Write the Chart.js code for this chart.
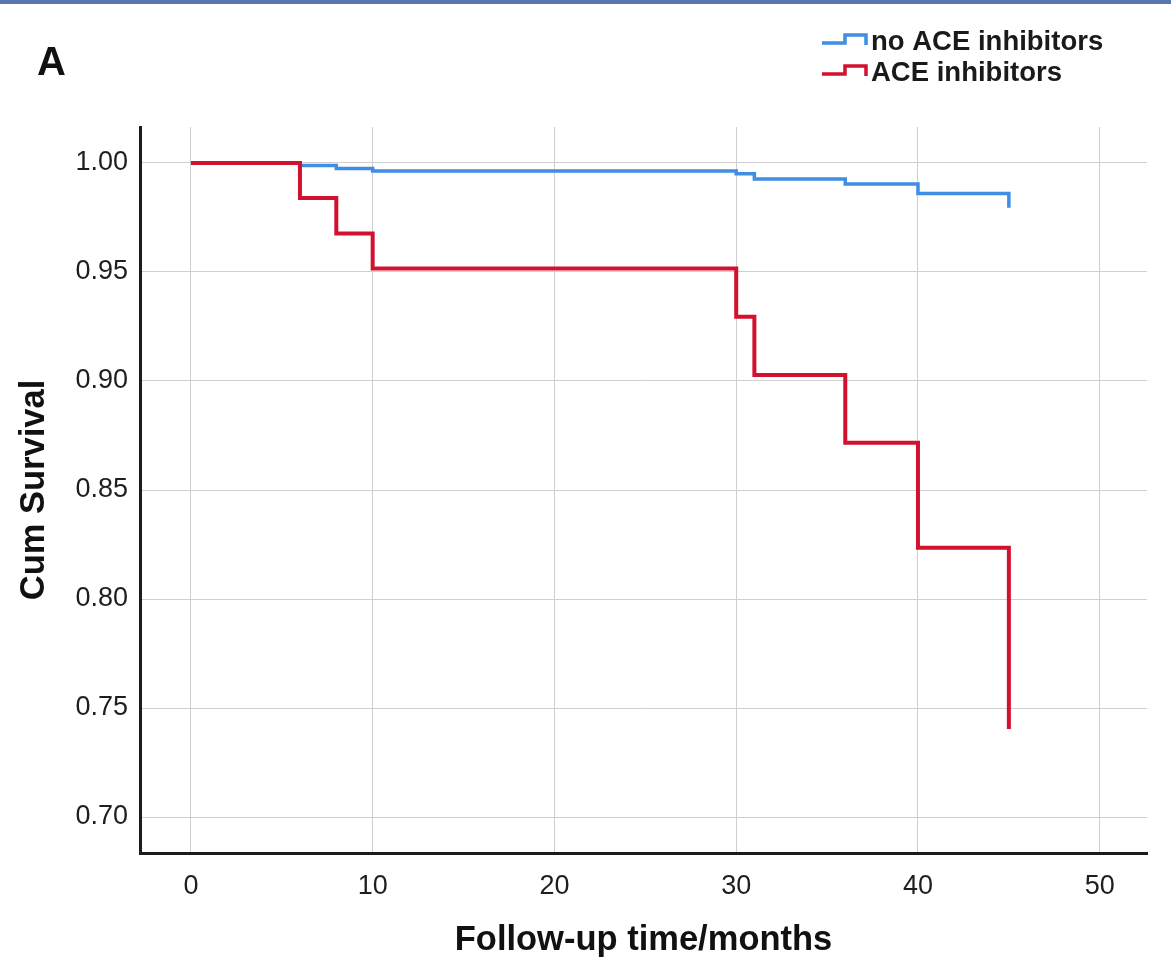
<!DOCTYPE html>
<html>
<head>
<meta charset="utf-8">
<title>Kaplan-Meier survival by ACE inhibitor use</title>
<script src="https://cdn.jsdelivr.net/npm/chart.js@4/dist/chart.umd.min.js"></script>
<style>
  html, body { margin: 0; padding: 0; background: #ffffff; }
  #wrap { position: relative; width: 1171px; height: 969px; }
</style>
</head>
<body>
<div id="wrap"><canvas id="km"></canvas></div>
<script>
// Follow-up time (months) at each event / end of follow-up
const noAceMonths = [0, 6, 8, 10, 30, 31, 36, 40, 45];
const noAceSurvival = [1.000, 0.9988, 0.9975, 0.9963, 0.9950, 0.9927, 0.9903, 0.9860, 0.9795];

const aceMonths = [0, 6, 8, 10, 30, 31, 36, 40, 45];
const aceSurvival = [1.000, 0.9839, 0.9677, 0.9516, 0.9295, 0.9028, 0.8717, 0.8235, 0.7404];

const seriesLabels = ['no ACE inhibitors', 'ACE inhibitors'];
const xTickValues = [0, 10, 20, 30, 40, 50];
const yTickValues = [0.70, 0.75, 0.80, 0.85, 0.90, 0.95, 1.00];

const BLUE = '#3f8ee4';
const RED = '#d2112f';
const FONT = '"Liberation Sans", Arial, sans-serif';

const toPoints = (xs, ys) => xs.map((x, i) => ({ x: x, y: ys[i] }));

// Panel letter, top bar and the step-shaped legend
const decorations = {
  id: 'decorations',
  beforeDraw(chart) {
    const ctx = chart.ctx;
    ctx.save();
    ctx.fillStyle = '#ffffff';
    ctx.fillRect(0, 0, chart.width, chart.height);
    ctx.fillStyle = '#5877b0';
    ctx.fillRect(0, 0, chart.width, 4);
    ctx.restore();
  },
  afterDraw(chart) {
    const ctx = chart.ctx;
    ctx.save();
    ctx.fillStyle = '#111111';
    ctx.font = 'bold 40px ' + FONT;
    ctx.textBaseline = 'alphabetic';
    ctx.textAlign = 'left';
    ctx.fillText('A', 37, 75);

    const rows = [
      { label: seriesLabels[0], color: BLUE, y: 43 },
      { label: seriesLabels[1], color: RED, y: 74 }
    ];
    rows.forEach(r => {
      ctx.strokeStyle = r.color;
      ctx.lineWidth = 3.5;
      ctx.lineJoin = 'miter';
      ctx.beginPath();
      ctx.moveTo(822, r.y);
      ctx.lineTo(845, r.y);
      ctx.lineTo(845, r.y - 8);
      ctx.lineTo(866, r.y - 8);
      ctx.lineTo(866, r.y + 2);
      ctx.stroke();
      ctx.fillStyle = '#1a1a1a';
      ctx.font = 'bold 27.5px ' + FONT;
      ctx.textBaseline = 'middle';
      ctx.fillText(r.label, 871, r.y - 1);
    });
    ctx.restore();
  }
};

new Chart(document.getElementById('km'), {
  type: 'line',
  data: {
    datasets: [
      {
        label: seriesLabels[0],
        data: toPoints(noAceMonths, noAceSurvival),
        borderColor: BLUE,
        borderWidth: 3.5,
        stepped: 'before',
        pointRadius: 0,
        fill: false,
        order: 1
      },
      {
        label: seriesLabels[1],
        data: toPoints(aceMonths, aceSurvival),
        borderColor: RED,
        borderWidth: 4,
        stepped: 'before',
        pointRadius: 0,
        fill: false,
        order: 0
      }
    ]
  },
  options: {
    responsive: true,
    maintainAspectRatio: false,
    animation: false,
    layout: { padding: { top: 127, right: 24, left: 0, bottom: 0 } },
    plugins: {
      legend: { display: false },
      tooltip: { enabled: false }
    },
    scales: {
      x: {
        type: 'linear',
        min: -2.8,
        max: 52.6,
        afterBuildTicks: s => { s.ticks = xTickValues.map(v => ({ value: v })); },
        afterFit: s => { s.height = 116; },
        grid: { color: '#cfcfcf', lineWidth: 1, drawTicks: false },
        border: { display: true, color: '#1c1c1c', width: 3 },
        ticks: {
          color: '#1e1e1e',
          font: { family: FONT, size: 27 },
          padding: 17,
          maxRotation: 0,
          callback: v => String(v)
        },
        title: {
          display: true,
          text: 'Follow-up time/months',
          color: '#111111',
          font: { family: FONT, size: 34.5, weight: 'bold' },
          padding: { top: 0, bottom: 8 }
        }
      },
      y: {
        type: 'linear',
        min: 0.6835,
        max: 1.0165,
        afterBuildTicks: s => { s.ticks = yTickValues.map(v => ({ value: v })); },
        afterFit: s => { s.width = 140; },
        grid: { color: '#cfcfcf', lineWidth: 1, drawTicks: false },
        border: { display: true, color: '#1c1c1c', width: 3 },
        ticks: {
          color: '#1e1e1e',
          font: { family: FONT, size: 27 },
          padding: 12,
          callback: v => v.toFixed(2)
        },
        title: {
          display: true,
          text: 'Cum Survival',
          color: '#111111',
          font: { family: FONT, size: 34.5, weight: 'bold' },
          padding: { top: 14, bottom: 0 }
        }
      }
    }
  },
  plugins: [decorations]
});
</script>
</body>
</html>
